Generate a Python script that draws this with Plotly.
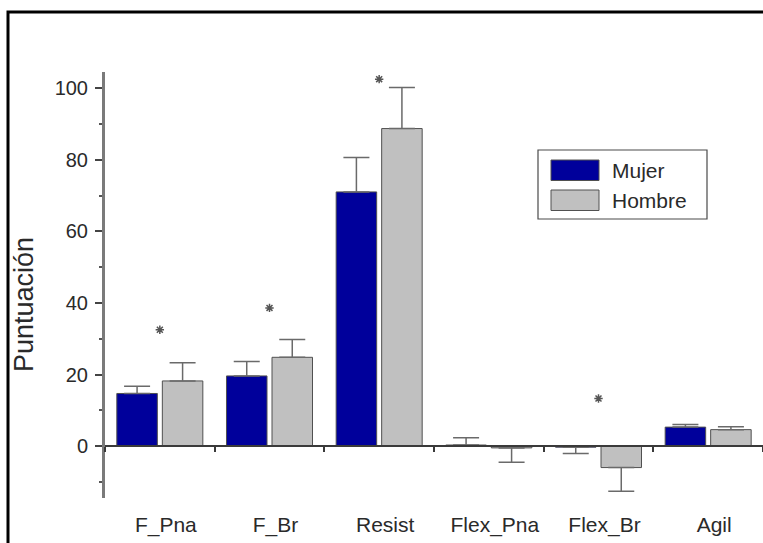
import plotly.graph_objects as go

# ---------------- data ----------------
categories = ["F_Pna", "F_Br", "Resist", "Flex_Pna", "Flex_Br", "Agil"]
mujer = [14.7, 19.6, 71.0, 0.3, -0.3, 5.3]
mujer_err = [2.0, 4.0, 9.6, 2.0, 1.8, 0.7]
hombre = [18.2, 24.8, 88.7, -0.5, -6.0, 4.6]
hombre_err = [5.1, 5.0, 11.5, 4.0, 6.6, 0.8]
sig_y = [32.5, 38.6, 102.5, None, 13.3, None]
series_names = ["Mujer", "Hombre"]
y_ticks = [0, 20, 40, 60, 80, 100]

# ---------------- style ----------------
W, H = 763, 543
ML, MR, MT, MB = 105, 0, 72, 45
YMIN, YMAX = -14.5, 104.5
C_MUJER = "#00009B"
C_HOMBRE = "#C0C0C0"
EDGE = "#505050"
ERRC = "#6a6a6a"
TXT = "#2a2a2a"
FONT = "Arial, Liberation Sans, sans-serif"

PW = W - ML - MR
PH = H - MT - MB


def px(x):
    return (x - ML) / PW


def py(y):
    return (H - MB - y) / PH


def one_sided(vals, errs):
    plus = [e if v >= 0 else 0 for v, e in zip(vals, errs)]
    minus = [0 if v >= 0 else e for v, e in zip(vals, errs)]
    return plus, minus


fig = go.Figure()
for name, vals, errs, col in [
    (series_names[0], mujer, mujer_err, C_MUJER),
    (series_names[1], hombre, hombre_err, C_HOMBRE),
]:
    plus, minus = one_sided(vals, errs)
    fig.add_trace(go.Bar(
        x=categories, y=vals, name=name,
        marker=dict(color=col, line=dict(color=EDGE, width=1)),
        error_y=dict(type="data", symmetric=False, array=plus, arrayminus=minus,
                     color=ERRC, thickness=1.5, width=13),
        showlegend=False,
    ))

fig.add_trace(go.Scatter(
    x=categories, y=sig_y, mode="markers",
    marker=dict(symbol="asterisk", size=7, line=dict(color="#555555", width=1.5)),
    showlegend=False, hoverinfo="skip",
))

zero_pos = (0 - YMIN) / (YMAX - YMIN)

fig.update_layout(
    width=W, height=H,
    margin=dict(l=ML, r=MR, t=MT, b=MB, pad=0),
    paper_bgcolor="white", plot_bgcolor="white",
    barmode="group", bargap=0.17, bargroupgap=0.11,
    font=dict(family=FONT, color=TXT),
    xaxis=dict(
        anchor="free", position=zero_pos,
        showline=True, linecolor="#3a3a3a", linewidth=2,
        ticks="outside", tickson="boundaries", ticklen=5, tickwidth=2, tickcolor="#3a3a3a",
        tickfont=dict(size=21, color=TXT),
        ticklabelstandoff=60, ticklabelshift=6,
        showgrid=False, zeroline=False,
        range=[-0.5, len(categories) - 0.5],
    ),
    yaxis=dict(
        range=[YMIN, YMAX],
        tickvals=y_ticks,
        showline=True, linecolor="#7a7a7a", linewidth=3,
        ticks="outside", ticklen=7, tickwidth=2, tickcolor="#444444",
        minor=dict(dtick=10, tick0=0, ticks="outside", ticklen=3, tickwidth=2, tickcolor="#555555"),
        tickfont=dict(size=20, color=TXT),
        ticklabelstandoff=3,
        showgrid=False, zeroline=False,
    ),
)

# outer frame
fig.add_shape(type="rect", xref="paper", yref="paper",
              x0=px(8), x1=px(W + 10), y0=py(H + 10), y1=py(12),
              line=dict(color="black", width=3), fillcolor="rgba(0,0,0,0)", layer="above")

# y-axis title
fig.add_annotation(text="Puntuación", xref="paper", yref="paper",
                   x=px(24), y=py(305), textangle=-90, showarrow=False,
                   xanchor="center", yanchor="middle",
                   font=dict(size=27, color=TXT, family=FONT))

# legend box
fig.add_shape(type="rect", xref="paper", yref="paper",
              x0=px(538), x1=px(707), y0=py(219), y1=py(150),
              line=dict(color="#4a4a4a", width=1.2), fillcolor="white", layer="above")
for i, (name, col) in enumerate(zip(series_names, [C_MUJER, C_HOMBRE])):
    top = 160 + i * 30
    fig.add_shape(type="rect", xref="paper", yref="paper",
                  x0=px(551), x1=px(599), y0=py(top + 20.5), y1=py(top),
                  line=dict(color=EDGE, width=1), fillcolor=col, layer="above")
    fig.add_annotation(text=name, xref="paper", yref="paper",
                       x=px(610), y=py(top + 10), xanchor="left", yanchor="middle",
                       showarrow=False, font=dict(size=21, color=TXT, family=FONT))

fig.write_html("out.html")
